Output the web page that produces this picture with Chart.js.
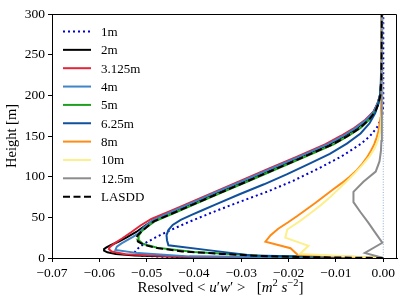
<!DOCTYPE html>
<html>
<head>
<meta charset="utf-8">
<script src="https://cdn.jsdelivr.net/npm/chart.js@4.4.0/dist/chart.umd.min.js"></script>
<style>
  body { margin: 0; background: #fff; }
  canvas { display: block; }
</style>
</head>
<body>
<canvas id="chart" width="407" height="305"></canvas>
<script>
// run labels, legend order
const labels = ["1m", "2m", "3.125m", "4m", "5m", "6.25m", "8m", "10m", "12.5m", "LASDD"];

const xTicks = [-0.07, -0.06, -0.05, -0.04, -0.03, -0.02, -0.01, 0.0];
const yTicks = [0, 50, 100, 150, 200, 250, 300];

// height [m] / resolved <u'w'> [m2 s-2] for each run
const h1m = [0, 0.5, 1.5, 2.5, 4, 6, 9, 13, 18, 25, 30, 35, 45, 55, 65, 75, 82, 95, 110, 125, 140, 150, 160, 170, 180, 190, 300];
const v1m = [0, -0.03, -0.046, -0.0505, -0.0522, -0.0526, -0.0523, -0.0516, -0.0504, -0.0482, -0.0465, -0.0447, -0.0408, -0.0366, -0.0322, -0.0276, -0.0243, -0.019, -0.0137, -0.0088, -0.0048, -0.0028, -0.0014, -0.0005, -0.0001, 0, 0];

const h2m = [0, 1, 3, 5, 7, 9, 11, 13, 16, 20, 25, 32, 40, 48, 55, 65, 80, 95, 110, 125, 140, 150, 160, 170, 180, 190, 200, 220, 300];
const v2m = [0, -0.04, -0.0525, -0.0565, -0.0583, -0.059, -0.059, -0.0585, -0.0575, -0.056, -0.0543, -0.0522, -0.0503, -0.0481, -0.0455, -0.0413, -0.0353, -0.0293, -0.0233, -0.0173, -0.0113, -0.0082, -0.0055, -0.0035, -0.002, -0.0012, -0.0007, -0.0004, -0.0003];

const h3m = [0, 1.5, 4.5, 8, 11, 14, 18, 24, 32, 40, 48, 56, 65, 80, 95, 110, 125, 140, 150, 160, 170, 180, 190, 200, 220, 300];
const v3m = [0, -0.042, -0.0545, -0.0574, -0.058, -0.0577, -0.0568, -0.0552, -0.0532, -0.0513, -0.049, -0.0457, -0.0421, -0.0361, -0.0301, -0.0241, -0.0181, -0.0122, -0.009, -0.0061, -0.0038, -0.0021, -0.0012, -0.0007, -0.0004, -0.0003];

const h4m = [0, 2, 6, 10, 14, 18, 22, 26, 30, 38, 46, 54, 62, 70, 80, 95, 110, 125, 140, 150, 160, 170, 180, 190, 200, 220, 300];
const v4m = [0, -0.041, -0.0518, -0.0566, -0.0563, -0.0553, -0.0541, -0.0529, -0.0518, -0.0505, -0.0488, -0.0459, -0.0428, -0.0396, -0.0357, -0.0296, -0.0236, -0.0176, -0.0117, -0.0085, -0.0058, -0.0036, -0.002, -0.0012, -0.0007, -0.0004, -0.0003];

const h5m = [0, 2.5, 7.5, 12.5, 17.5, 22.5, 27.5, 32.5, 37.5, 45, 55, 65, 80, 95, 110, 125, 140, 150, 160, 170, 180, 190, 200, 220, 300];
const v5m = [0, -0.025, -0.04, -0.0478, -0.0508, -0.0518, -0.0517, -0.0511, -0.0501, -0.0483, -0.0443, -0.0403, -0.0343, -0.0283, -0.0223, -0.0163, -0.0104, -0.0074, -0.0048, -0.003, -0.0017, -0.001, -0.0006, -0.0004, -0.0003];

const h6m = [0, 3.125, 9.375, 15.625, 21.875, 28.125, 34.375, 40.625, 46.875, 53.125, 59.375, 65.625, 78.125, 90.625, 103.125, 115.625, 128.125, 140.625, 153.125, 165.625, 178.125, 190.625, 203.125, 240, 300];
const v6m = [0, -0.0278, -0.0366, -0.0454, -0.0457, -0.0458, -0.0454, -0.0445, -0.0428, -0.0405, -0.038, -0.0355, -0.0305, -0.0252, -0.0203, -0.0157, -0.0113, -0.0077, -0.0048, -0.0029, -0.0017, -0.001, -0.0006, -0.0004, -0.0003];

const h8m = [0, 4, 12, 20, 28, 36, 44, 52, 60, 68, 76, 84, 92, 100, 108, 116, 124, 132, 140, 148, 156, 164, 172, 180, 196, 300];
const v8m = [0, -0.0181, -0.0196, -0.0249, -0.0238, -0.0222, -0.0201, -0.0181, -0.0162, -0.0143, -0.0125, -0.0107, -0.0088, -0.0071, -0.0056, -0.0044, -0.0034, -0.0026, -0.0019, -0.0014, -0.001, -0.0008, -0.0006, -0.0005, -0.0004, -0.0003];

const h10m = [0, 5, 15, 25, 35, 45, 55, 65, 75, 85, 95, 105, 115, 125, 135, 145, 155, 165, 185, 300];
const v10m = [0, -0.0176, -0.0158, -0.0207, -0.0203, -0.0177, -0.0154, -0.0132, -0.0112, -0.0094, -0.0076, -0.0059, -0.0043, -0.0029, -0.0018, -0.0011, -0.0007, -0.0005, -0.0003, -0.0003];

const h12m = [0, 6.25, 18.75, 31.25, 43.75, 56.25, 68.75, 81.25, 93.75, 106.25, 118.75, 131.25, 143.75, 156.25, 300];
const v12m = [0, -0.0039, -0.0002, -0.0017, -0.0032, -0.0048, -0.0063, -0.0063, -0.0042, -0.0016, -0.0008, -0.0005, -0.0004, -0.0003, -0.0003];

const hLasdd = [0, 1, 2.5, 5, 8, 12, 16, 20, 24, 28, 32, 37, 45, 55, 65, 80, 95, 110, 125, 140, 150, 160, 170, 180, 190, 200, 220, 300];
const vLasdd = [0, -0.015, -0.026, -0.034, -0.0425, -0.0475, -0.0505, -0.0518, -0.0522, -0.0519, -0.0512, -0.0502, -0.0485, -0.0445, -0.0405, -0.0345, -0.0285, -0.0225, -0.0165, -0.0106, -0.0075, -0.0049, -0.003, -0.0017, -0.001, -0.0006, -0.0004, -0.0003];

const profiles = [[h1m, v1m], [h2m, v2m], [h3m, v3m], [h4m, v4m], [h5m, v5m],
  [h6m, v6m], [h8m, v8m], [h10m, v10m], [h12m, v12m], [hLasdd, vLasdd]];

const colors = ["#0000cc", "#000000", "#e3263a", "#3f84c6", "#1f9e1f", "#10509c", "#ff8a14", "#fcef8c", "#8c8c8c", "#000000"];
const dashes = [[2, 3], [], [], [], [], [], [], [], [], [7, 3.5]];

const FONT = "'Liberation Serif', serif";

const datasets = profiles.map(([hs, vs], i) => ({
  label: labels[i],
  data: hs.map((h, k) => ({ x: vs[k], y: h })),
  borderColor: colors[i],
  borderDash: dashes[i],
  borderWidth: 2,
  pointRadius: 0,
  showLine: true,
  fill: false,
  order: profiles.length - i, // later runs on top, like matplotlib
}));

// thin dotted line at zero
datasets.push({
  label: "",
  data: [{ x: 0, y: 0 }, { x: 0, y: 300 }],
  borderColor: "#6f9ccc",
  borderWidth: 0.8,
  borderDash: [1, 1.6],
  pointRadius: 0,
  showLine: true,
  order: 0,
});

// x label with math-style italics: Resolved < u'w' >  [m^2 s^-2]
const xLabelParts = [
  ["Resolved ", "n"], ["<", "n"], [" ", "n"], ["u", "i"], ["\u2032", "n"], ["w", "i"], ["\u2032", "n"],
  [" ", "n"], [">", "n"], ["   [", "n"], ["m", "i"], ["2", "s"], [" ", "n"], ["s", "i"], ["\u22122", "s"], ["]", "n"],
];

const extras = {
  id: "extras",
  afterDraw(chart) {
    const { ctx, chartArea } = chart;
    ctx.save();
    // top and right spines
    ctx.strokeStyle = "#000";
    ctx.lineWidth = 1;
    ctx.beginPath();
    ctx.moveTo(chartArea.left, Math.round(chartArea.top) + 0.5);
    ctx.lineTo(Math.round(chartArea.right) - 0.5, Math.round(chartArea.top) + 0.5);
    ctx.lineTo(Math.round(chartArea.right) - 0.5, chartArea.bottom);
    ctx.stroke();

    // legend inside the axes
    ctx.font = "13px " + FONT;
    ctx.textBaseline = "middle";
    chart.data.datasets.forEach((ds, i) => {
      if (!ds.label) return;
      const y = chartArea.top + 17.5 + i * 18.35;
      const x0 = chartArea.left + 11;
      ctx.beginPath();
      ctx.setLineDash(ds.borderDash);
      ctx.strokeStyle = ds.borderColor;
      ctx.lineWidth = ds.borderWidth;
      ctx.moveTo(x0, y);
      ctx.lineTo(x0 + 28, y);
      ctx.stroke();
      ctx.setLineDash([]);
      ctx.fillStyle = "#000";
      ctx.fillText(ds.label, x0 + 38, y + 1);
    });

    // x axis label
    const fonts = { n: "15px " + FONT, i: "italic 15px " + FONT, s: "10.5px " + FONT };
    ctx.textBaseline = "alphabetic";
    let total = 0;
    xLabelParts.forEach(([t, f]) => { ctx.font = fonts[f]; total += ctx.measureText(t).width; });
    let x = (chartArea.left + chartArea.right) / 2 - 4 - total / 2;
    const base = 292;
    xLabelParts.forEach(([t, f]) => {
      ctx.font = fonts[f];
      ctx.fillText(t, x, f === "s" ? base - 6 : base);
      x += ctx.measureText(t).width;
    });
    ctx.restore();
  },
};

const fmt = (v) => (v < 0 ? "\u2212" : "") + Math.abs(v).toFixed(2);

new Chart(document.getElementById("chart"), {
  type: "scatter",
  data: { datasets },
  options: {
    responsive: false,
    animation: false,
    devicePixelRatio: 1,
    layout: { padding: { left: 0, right: 10, top: 14, bottom: 0 } },
    plugins: { legend: { display: false }, tooltip: { enabled: false } },
    scales: {
      x: {
        type: "linear",
        min: -0.07,
        max: 0.0029,
        afterBuildTicks: (s) => { s.ticks = xTicks.map((v) => ({ value: v })); },
        afterFit: (s) => { s.height = 47; },
        ticks: {
          callback: fmt,
          autoSkip: false,
          maxRotation: 0,
          padding: 3,
          color: "#000",
          font: { family: FONT, size: 13.5 },
        },
        grid: { drawOnChartArea: false, drawTicks: true, tickLength: 4, color: "#000" },
        border: { display: true, color: "#000", width: 1 },
      },
      y: {
        type: "linear",
        min: 0,
        max: 300,
        afterBuildTicks: (s) => { s.ticks = yTicks.map((v) => ({ value: v })); },
        afterFit: (s) => { s.width = 52; },
        ticks: {
          padding: 3,
          color: "#000",
          font: { family: FONT, size: 13.5 },
        },
        grid: { drawOnChartArea: false, drawTicks: true, tickLength: 4, color: "#000" },
        border: { display: true, color: "#000", width: 1 },
        title: {
          display: true,
          text: "Height [m]",
          color: "#000",
          font: { family: FONT, size: 14.5 },
          padding: { top: 3, bottom: 0 },
        },
      },
    },
  },
  plugins: [extras],
});
</script>
</body>
</html>
